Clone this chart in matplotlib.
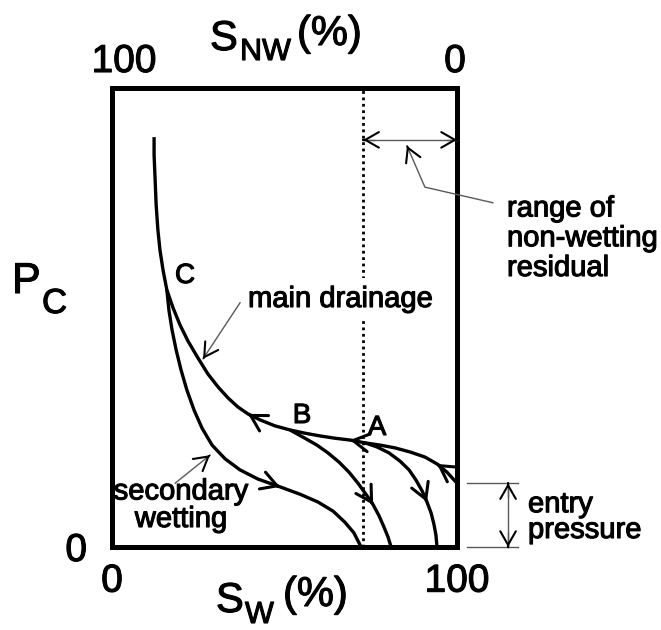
import numpy as np
import matplotlib.pyplot as plt
import matplotlib.patheffects as pe

plt.rcParams['font.family'] = ['Liberation Sans', 'DejaVu Sans']

# water saturation Sw (%) and capillary pressure Pc (arbitrary 0-100)
drain_sw = [100.0, 97.1, 94.2, 90.7, 86.4, 82.0, 77.7, 73.3, 69.0, 64.6, 60.3, 55.9, 51.6, 47.2,
            42.9, 39.4, 36.5, 33.6, 30.7, 27.8, 24.9, 22.0, 19.7, 17.7, 15.9, 14.8, 13.9, 13.3,
            12.8, 12.5, 12.2, 12.2]
drain_pc = [13.9, 16.3, 18.1, 19.6, 20.7, 21.6, 22.2, 22.7, 23.3, 23.7, 24.2, 24.8, 25.5, 26.4,
            27.7, 29.0, 30.5, 32.5, 34.9, 37.7, 41.2, 44.9, 48.4, 52.1, 56.0, 60.3, 64.7, 69.1,
            74.5, 80.0, 85.4, 89.3]

wet_sw = [15.9, 16.5, 17.4, 18.6, 20.0, 21.7, 23.8, 26.1, 29.0, 32.8, 37.1, 42.3, 48.7, 54.5,
          59.7, 64.1, 67.5, 70.1, 72.2]
wet_pc = [56.0, 51.6, 47.3, 42.9, 38.6, 34.2, 29.8, 25.9, 22.2, 19.2, 16.8, 14.8, 13.1, 11.5,
          9.8, 7.8, 5.4, 3.1, 0.0]

b_sw = [51.6, 55.9, 59.4, 62.6, 65.8, 68.7, 71.3, 73.6, 75.7, 77.4, 78.8, 80.0, 80.9]
b_pc = [25.5, 23.7, 22.2, 20.5, 18.5, 16.3, 13.9, 11.5, 9.2, 6.8, 4.4, 2.2, 0.0]

a_sw = [73.3, 76.8, 80.3, 83.5, 86.1, 88.1, 89.9, 91.3, 92.5, 93.3, 93.9, 94.2]
a_pc = [22.7, 21.8, 20.5, 18.7, 16.8, 14.6, 12.2, 9.8, 7.4, 5.0, 2.6, 0.0]

# (curve, index of arrow tip)
arrow_marks = [(drain_sw, drain_pc, 2), (drain_sw, drain_pc, 8), (drain_sw, drain_pc, 15),
               (wet_sw, wet_pc, 12), (b_sw, b_pc, 8), (a_sw, a_pc, 7)]

residual_sw = 72.8      # dotted line, start of non-wetting residual range
range_pc = 88.7         # height of the range arrow
entry_pc = 13.9         # entry pressure

sw_ticks = [0, 100]
snw_ticks = ['100', '0']
pc_ticks = [0]

W, H = 661, 630
def fpos(x, y):
    return x / W, 1 - y / H

bold = [pe.withStroke(linewidth=0.8, foreground='k')]

fig = plt.figure(figsize=(W / 100, H / 100), dpi=100)
ax = fig.add_axes([112 / W, 1 - 547 / H, 345 / W, 459 / H])
ax.set_xlim(0, 100)
ax.set_ylim(0, 100)
for s in ax.spines.values():
    s.set_linewidth(3.6)

ax.set_xticks(sw_ticks)
ax.set_xticklabels([str(t) for t in sw_ticks], fontsize=28, path_effects=bold)
ax.set_yticks(pc_ticks)
ax.set_yticklabels([str(t) for t in pc_ticks], fontsize=28, path_effects=bold)
ax.tick_params(axis='x', length=0, pad=12)
ax.tick_params(axis='y', length=0, pad=18)

# top axis: non-wetting saturation
for x, lab in zip([124, 455], snw_ticks):
    fig.text(*fpos(x, 72), lab, fontsize=28, ha='center', va='baseline', path_effects=bold)

# curves
for sw, pc in [(drain_sw, drain_pc), (wet_sw, wet_pc), (b_sw, b_pc), (a_sw, a_pc)]:
    ax.plot(sw, pc, color='k', lw=2.4, solid_joinstyle='round', solid_capstyle='butt', zorder=3)

head = dict(arrowstyle='->,head_length=0.7,head_width=0.4', lw=2.2, color='k',
            shrinkA=0, shrinkB=0, mutation_scale=16)
for sw, pc, i in arrow_marks:
    dx = sw[i + 1] - sw[i - 1]
    dy = pc[i + 1] - pc[i - 1]
    ax.annotate('', xy=(sw[i], pc[i]), xytext=(sw[i] - 0.05 * dx, pc[i] - 0.05 * dy),
                arrowprops=head, zorder=4)

# dotted residual line
ax.axvline(residual_sw, color='k', lw=2.0, ls=(0, (1, 1.3)), zorder=1)

thin = dict(color='0.35', lw=1.0, clip_on=False, zorder=5)
lead = dict(arrowstyle='->,head_length=0.7,head_width=0.4', lw=1.5, color='k',
            shrinkA=0, shrinkB=0, mutation_scale=14)

def leader(xs, ys):
    ax.plot(xs, ys, **thin)
    ax.annotate('', xy=(xs[-1], ys[-1]),
                xytext=(xs[-1] - 0.02 * (xs[-1] - xs[-2]), ys[-1] - 0.02 * (ys[-1] - ys[-2])),
                arrowprops=lead, annotation_clip=False, zorder=6)

# range of non-wetting residual
ax.plot([residual_sw, 100], [range_pc, range_pc], **thin)
leader([residual_sw + 3, residual_sw], [range_pc, range_pc])
leader([97, 100], [range_pc, range_pc])
leader([110.4, 90.7, 85.5], [75.0, 78.4, 87.4])

# main drainage / secondary wetting pointers
leader([37.1, 26.4], [53.2, 41.0])
leader([18.3, 28.4], [13.9, 20.0])

# entry pressure
ax.plot([102.9, 117.7], [entry_pc, entry_pc], **thin)
ax.plot([102.9, 117.7], [0, 0], **thin)
ax.plot([114.8, 114.8], [0, entry_pc], **thin)
leader([114.8, 114.8], [entry_pc - 3, entry_pc])
leader([114.8, 114.8], [3, 0])

# labels inside (multi-line blocks are placed by the baseline of their last line)
fs = 21
txt = dict(fontsize=fs, va='baseline', path_effects=bold)
fig.text(*fpos(248, 307), 'main drainage', zorder=2,
         bbox=dict(boxstyle='square,pad=0.25', fc='white', ec='none'), **txt)
fig.text(*fpos(181, 527), 'secondary\nwetting', ha='center', multialignment='center',
         linespacing=0.98, **txt)
for x, y, lab in [(185, 283, 'C'), (302, 423, 'B'), (377, 435, 'A')]:
    fig.text(*fpos(x, y), lab, fontsize=20, ha='center', va='baseline', path_effects=bold)

# labels outside
fig.text(*fpos(507, 276), 'range of\nnon-wetting\nresidual', linespacing=1.08, **txt)
fig.text(*fpos(528, 538), 'entry\npressure', linespacing=0.9, **txt)

# axis titles
ttl = dict(va='baseline', path_effects=bold)
fig.text(*fpos(210, 50), 'S', fontsize=30, **ttl)
fig.text(*fpos(240, 60), 'NW', fontsize=22, **ttl)
fig.text(*fpos(297, 45), '(%)', fontsize=30, **ttl)
fig.text(*fpos(216, 612), 'S', fontsize=30, **ttl)
fig.text(*fpos(245, 623), 'W', fontsize=22, **ttl)
fig.text(*fpos(283, 606), '(%)', fontsize=30, **ttl)
fig.text(*fpos(12, 293), 'P', fontsize=31, **ttl)
fig.text(*fpos(42, 313), 'C', fontsize=25, **ttl)

fig.savefig('out.png', dpi=100)
